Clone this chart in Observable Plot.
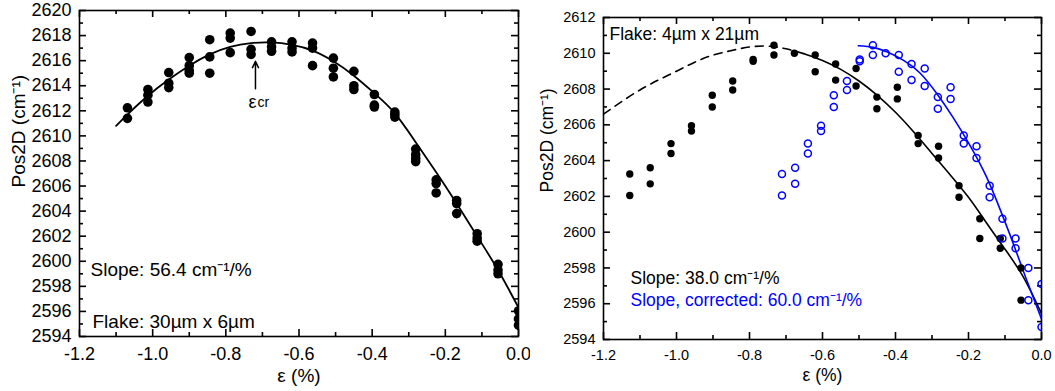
<!DOCTYPE html>
<html><head><meta charset="utf-8">
<script src="https://cdn.jsdelivr.net/npm/d3@7"></script>
<script src="https://cdn.jsdelivr.net/npm/@observablehq/plot@0.6"></script>
<style>
html,body{margin:0;padding:0;background:#fff;}
#wrap{display:flex;width:1055px;height:391px;overflow:hidden;background:#fff;}
svg{display:block;}
</style></head><body><div id="wrap"></div>
<script>
const FONT = "'Liberation Sans', Arial, Helvetica, sans-serif";
const BLUE = "#0000ff";

// ---- tick labels ----
const xMajorTicks = [-1.2, -1.0, -0.8, -0.6, -0.4, -0.2, 0.0];
const xMinorTicks = [-1.1, -0.9, -0.7, -0.5, -0.3, -0.1];
const leftYMajorTicks = [2594, 2596, 2598, 2600, 2602, 2604, 2606, 2608, 2610, 2612, 2614, 2616, 2618, 2620];
const leftYMinorTicks = [2595, 2597, 2599, 2601, 2603, 2605, 2607, 2609, 2611, 2613, 2615, 2617, 2619];
const rightYMajorTicks = [2594, 2596, 2598, 2600, 2602, 2604, 2606, 2608, 2610, 2612];
const rightYMinorTicks = [2595, 2597, 2599, 2601, 2603, 2605, 2607, 2609, 2611];

// ---- left panel: Flake 30um x 6um ----
const leftStrain = [-1.069, -1.013, -0.956, -0.900, -0.844, -0.788, -0.731, -0.675, -0.619, -0.563,
                    -0.506, -0.450, -0.394, -0.338, -0.281, -0.225, -0.169, -0.113, -0.056, 0.000];
const leftPos = [
  [2612.24, 2611.4],
  [2613.7, 2613.25, 2612.7],
  [2615.05, 2614.2, 2613.85],
  [2616.25, 2615.6, 2615.2, 2615.0],
  [2617.67, 2616.3, 2615.0],
  [2618.2, 2617.8, 2616.64],
  [2618.33, 2616.9, 2616.5],
  [2617.5, 2617.1, 2616.75],
  [2617.5, 2617.0, 2616.7],
  [2617.4, 2617.0, 2615.6],
  [2616.2, 2615.4, 2614.7],
  [2615.15, 2614.0, 2613.7],
  [2613.3, 2612.45, 2612.3],
  [2611.9, 2611.7, 2611.5],
  [2608.95, 2608.5, 2608.2, 2607.95],
  [2606.5, 2606.2, 2605.45],
  [2604.85, 2604.6, 2603.8],
  [2602.2, 2601.85, 2601.6],
  [2599.75, 2599.3, 2599.0],
  [2596.05, 2595.4, 2594.9]
];
const leftFitStrain = [-1.10, -1.069, -1.013, -0.956, -0.900, -0.844, -0.788, -0.731, -0.675, -0.619, -0.563,
                       -0.506, -0.450, -0.394, -0.338, -0.281, -0.225, -0.169, -0.113, -0.056, 0.000];
const leftFitPos = [2610.8, 2611.7, 2613.2, 2614.5, 2615.6, 2616.5, 2617.1, 2617.4, 2617.45, 2617.25, 2616.8,
                    2615.95, 2614.8, 2613.4, 2611.8, 2609.5, 2607.1, 2604.6, 2602.0, 2599.3, 2596.3];
const crArrow = [{strain: -0.719, from: 2613.75, to: 2615.95}];

// ---- right panel: Flake 4um x 21um ----
const rightBlackStrain = [-1.128, -1.072, -1.015, -0.959, -0.902, -0.846, -0.790, -0.733, -0.677, -0.620,
                          -0.564, -0.508, -0.451, -0.395, -0.338, -0.282, -0.226, -0.169, -0.113, -0.056];
const rightBlackPos = [
  [2603.25, 2602.05], [2603.6, 2602.7], [2604.95, 2604.4], [2605.95, 2605.65], [2607.65, 2607.0],
  [2608.45, 2607.95], [2609.65, 2609.55], [2610.45, 2609.9], [2610.0], [2609.9, 2608.97],
  [2609.4, 2608.5], [2609.15, 2608.17], [2607.55, 2606.9], [2608.1, 2607.45], [2605.4, 2604.95],
  [2604.8, 2604.15], [2602.6, 2601.95], [2600.75, 2599.65], [2599.65, 2599.1], [2598.0, 2596.2]
];
const rightBlueStrain = [-0.711, -0.675, -0.640, -0.604, -0.569, -0.533, -0.498, -0.462, -0.427, -0.391, -0.356,
                         -0.320, -0.284, -0.249, -0.213, -0.178, -0.142, -0.107, -0.071, -0.036, 0.000];
const rightBluePos = [
  [2603.25, 2602.05], [2603.6, 2602.7], [2604.95, 2604.4], [2605.95, 2605.65], [2607.65, 2607.0],
  [2608.45, 2607.95], [2609.65, 2609.55], [2610.45, 2609.9], [2610.0], [2609.9, 2608.97],
  [2609.4, 2608.5], [2609.15, 2608.17], [2607.55, 2606.9], [2608.1, 2607.45], [2605.4, 2604.95],
  [2604.8, 2604.15], [2602.6, 2601.95], [2600.75, 2599.65], [2599.65, 2599.1], [2598.0, 2596.2],
  [2597.1, 2594.7]
];
const blackDashStrain = [-1.2, -1.15, -1.1, -1.05, -1.0, -0.95, -0.9, -0.85, -0.8, -0.75, -0.7, -0.647];
const blackDashPos = [2606.6, 2607.3, 2607.95, 2608.5, 2609.0, 2609.5, 2609.9, 2610.15, 2610.35, 2610.4, 2610.25, 2609.95];
const blackFitStrain = [-0.647, -0.6, -0.55, -0.5, -0.45, -0.4, -0.35, -0.3, -0.25, -0.2, -0.15, -0.1, -0.05, 0.0];
const blackFitPos = [2609.95, 2609.6, 2609.1, 2608.45, 2607.65, 2606.7, 2605.6, 2604.4, 2603.2, 2601.95, 2600.5, 2599.05, 2597.5, 2595.45];
const blueFitStrain = [-0.502, -0.461, -0.424, -0.379, -0.333, -0.287, -0.242, -0.196, -0.151, -0.114, -0.078, -0.042, 0.0];
const blueFitPos = [2610.42, 2610.33, 2610.08, 2609.62, 2608.9, 2607.75, 2606.4, 2604.85, 2603.1, 2601.3, 2599.4, 2597.4, 2595.15];

// ---- tables ----
const pts = (xs, ys) => xs.flatMap((x, i) => ys[i].map(y => ({x, y})));
const pairs = (xs, ys) => xs.map((x, i) => ({x, y: ys[i]}));
const leftPoints = pts(leftStrain, leftPos);
const leftFit = pairs(leftFitStrain, leftFitPos);
const rBlack = pts(rightBlackStrain, rightBlackPos);
const rBlue = pts(rightBlueStrain, rightBluePos);
const rDash = pairs(blackDashStrain, blackDashPos);
const rFit = pairs(blackFitStrain, blackFitPos);
const bFit = pairs(blueFitStrain, blueFitPos);

const fmtX = d => d.toFixed(1);
const fmtY = d => String(d);
const lbl = s => [s];

// inward ticks on all four sides of the frame
function frameTicks(ph, pw, yMaj, yMin, sw) {
  const MAJ = 7, MIN = 4;
  return [
    Plot.tickX(xMajorTicks, {x: d => d, insetTop: ph - MAJ, stroke: "black", strokeWidth: sw}),
    Plot.tickX(xMinorTicks, {x: d => d, insetTop: ph - MIN, stroke: "black", strokeWidth: sw}),
    Plot.tickX(xMajorTicks, {x: d => d, insetBottom: ph - MAJ, stroke: "black", strokeWidth: sw}),
    Plot.tickX(xMinorTicks, {x: d => d, insetBottom: ph - MIN, stroke: "black", strokeWidth: sw}),
    Plot.tickY(yMaj, {y: d => d, insetRight: pw - MAJ, stroke: "black", strokeWidth: sw}),
    Plot.tickY(yMin, {y: d => d, insetRight: pw - MIN, stroke: "black", strokeWidth: sw}),
    Plot.tickY(yMaj, {y: d => d, insetLeft: pw - MAJ, stroke: "black", strokeWidth: sw}),
    Plot.tickY(yMin, {y: d => d, insetLeft: pw - MIN, stroke: "black", strokeWidth: sw}),
    Plot.frame({stroke: "black", strokeWidth: sw})
  ];
}

// Left chart
const L = {w: 530, h: 391, ml: 79, mr: 12, mt: 10, mb: 55};
const LPH = L.h - L.mt - L.mb, LPW = L.w - L.ml - L.mr;
const left = Plot.plot({
  width: L.w, height: L.h,
  marginLeft: L.ml, marginRight: L.mr, marginTop: L.mt, marginBottom: L.mb,
  style: {fontFamily: FONT, fontSize: "18px", color: "black", background: "white", overflow: "visible"},
  x: {domain: [-1.2, 0], ticks: xMajorTicks, tickFormat: fmtX, tickSize: 0, tickPadding: 11, label: null},
  y: {domain: [2594, 2620], ticks: leftYMajorTicks, tickFormat: fmtY, tickSize: 0, tickPadding: 8, label: null},
  marks: [
    ...frameTicks(LPH, LPW, leftYMajorTicks, leftYMinorTicks, 1.6),
    Plot.line(leftFit, {x: "x", y: "y", curve: "natural", stroke: "black", strokeWidth: 1.8, clip: true}),
    Plot.dot(leftPoints, {x: "x", y: "y", r: 4.8, fill: "black", clip: true}),
    Plot.arrow(crArrow, {x1: "strain", x2: "strain", y1: "from", y2: "to", stroke: "black", strokeWidth: 1.5, headLength: 7, headAngle: 50}),
    Plot.text(lbl("ε"), {text: d => d, x: () => -0.719, y: () => 2613.75, dy: 13, dx: -3, lineAnchor: "middle", fontSize: 18}),
    Plot.text(lbl("cr"), {text: d => d, x: () => -0.719, y: () => 2613.75, dy: 14, dx: 2, textAnchor: "start", lineAnchor: "middle", fontSize: 14}),
    Plot.text(lbl("Slope: 56.4 cm⁻¹/%"), {text: d => d, frameAnchor: "bottom-left", dx: 11, dy: -61, textAnchor: "start", lineAnchor: "bottom", fontSize: 19}),
    Plot.text(lbl("Flake: 30µm x 6µm"), {text: d => d, frameAnchor: "bottom-left", dx: 13, dy: -9, textAnchor: "start", lineAnchor: "bottom", fontSize: 19}),
    Plot.text(lbl("ε (%)"), {text: d => d, frameAnchor: "bottom", dy: 39, lineAnchor: "middle", fontSize: 19}),
    Plot.text(lbl("Pos2D (cm⁻¹)"), {text: d => d, frameAnchor: "left", dx: -61, dy: 14, rotate: -90, lineAnchor: "middle", fontSize: 19})
  ]
});

// Right chart
const R = {w: 525, h: 391, ml: 73, mr: 14, mt: 17, mb: 52};
const RPH = R.h - R.mt - R.mb, RPW = R.w - R.ml - R.mr;
const right = Plot.plot({
  width: R.w, height: R.h,
  marginLeft: R.ml, marginRight: R.mr, marginTop: R.mt, marginBottom: R.mb,
  style: {fontFamily: FONT, fontSize: "14.5px", color: "black", background: "white", overflow: "visible"},
  x: {domain: [-1.2, 0], ticks: xMajorTicks, tickFormat: fmtX, tickSize: 0, tickPadding: 10, label: null},
  y: {domain: [2594, 2612], ticks: rightYMajorTicks, tickFormat: fmtY, tickSize: 0, tickPadding: 8, label: null},
  marks: [
    ...frameTicks(RPH, RPW, rightYMajorTicks, rightYMinorTicks, 1.6),
    Plot.line(rDash, {x: "x", y: "y", curve: "natural", stroke: "black", strokeWidth: 1.6, strokeDasharray: "8,6", clip: true}),
    Plot.line(rFit, {x: "x", y: "y", curve: "natural", stroke: "black", strokeWidth: 1.6, clip: true}),
    Plot.line(bFit, {x: "x", y: "y", curve: "natural", stroke: BLUE, strokeWidth: 1.6, clip: true}),
    Plot.dot(rBlack, {x: "x", y: "y", r: 3.7, fill: "black", clip: true}),
    Plot.dot(rBlue, {x: "x", y: "y", r: 3.5, fill: "none", stroke: BLUE, strokeWidth: 1.5, clip: true}),
    Plot.text(lbl("Flake: 4µm x 21µm"), {text: d => d, frameAnchor: "top-left", dx: 6, dy: 22, textAnchor: "start", lineAnchor: "bottom", fontSize: 17.5}),
    Plot.text(lbl("Slope: 38.0 cm⁻¹/%"), {text: d => d, frameAnchor: "bottom-left", dx: 27, dy: -56, textAnchor: "start", lineAnchor: "bottom", fontSize: 17.5}),
    Plot.text(lbl("Slope, corrected: 60.0 cm⁻¹/%"), {text: d => d, frameAnchor: "bottom-left", dx: 27, dy: -34, textAnchor: "start", lineAnchor: "bottom", fontSize: 17.5, fill: BLUE}),
    Plot.text(lbl("ε (%)"), {text: d => d, frameAnchor: "bottom", dy: 36, lineAnchor: "middle", fontSize: 17.5}),
    Plot.text(lbl("Pos2D (cm⁻¹)"), {text: d => d, frameAnchor: "left", dx: -56, dy: 14, rotate: -90, lineAnchor: "middle", fontSize: 17.5})
  ]
});

const wrap = document.getElementById("wrap");
wrap.appendChild(left);
wrap.appendChild(right);
</script>
</body></html>
